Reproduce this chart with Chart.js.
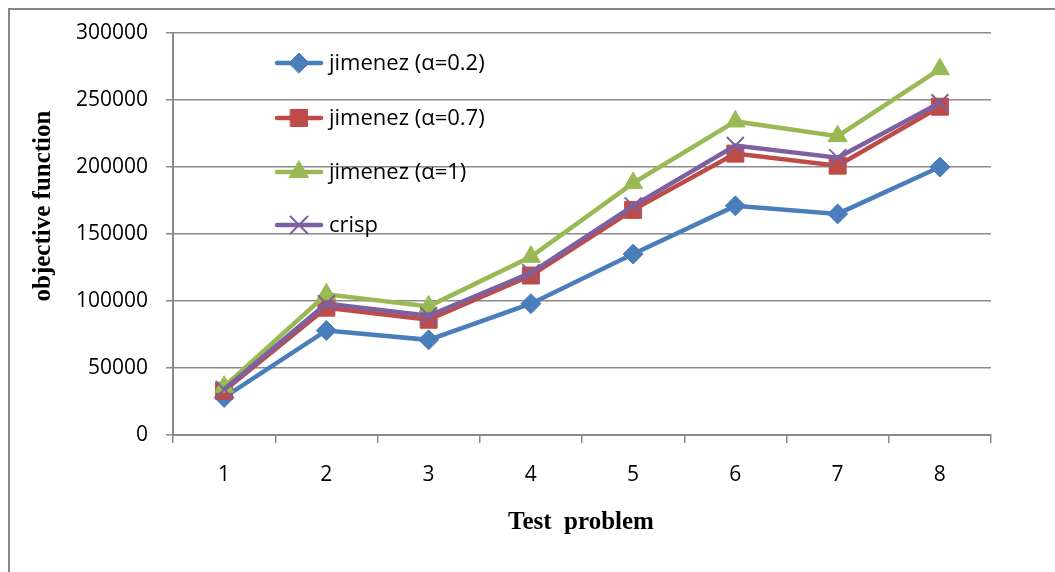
<!DOCTYPE html>
<html>
<head>
<meta charset="utf-8">
<script src="https://cdn.jsdelivr.net/npm/chart.js"></script>
<style>
  html, body { margin: 0; padding: 0; background: #fff; }
  #wrap { width: 1055px; height: 572px; position: relative; }
</style>
</head>
<body>
<div id="wrap"><canvas id="chart"></canvas></div>
<script>
// test problems on the x axis
const problems = ["1", "2", "3", "4", "5", "6", "7", "8"];

// objective function values
const jimenez02 = [28000, 78000, 71000, 98000, 135000, 171000, 165000, 200000];
const jimenez07 = [33000, 95000, 86000, 119000, 168000, 210000, 201000, 245000];
const jimenez1 = [36000, 105000, 96000, 133000, 188000, 234000, 223000, 273000];
const crisp = [34000, 98000, 89000, 121000, 171000, 216000, 207000, 248000];

const seriesNames = ["jimenez (α=0.2)", "jimenez (α=0.7)", "jimenez (α=1)", "crisp"];

const yMin = 0;
const yMax = 300000;
const yStep = 50000;

const gridGrey = "#8a8a8a";

function series(label, data, color, style, radius, order) {
  return {
    label: label,
    data: data,
    borderColor: color,
    backgroundColor: color,
    borderWidth: 4.5,
    pointStyle: style,
    pointRadius: radius,
    pointHoverRadius: radius,
    pointBorderWidth: style === "crossRot" ? 2 : 1,
    pointBorderColor: color,
    pointBackgroundColor: color,
    tension: 0,
    order: order,
  };
}

// legend sits inside the plot, drawn by hand
const insideLegend = {
  id: "insideLegend",
  afterDatasetsDraw(chart) {
    const ctx = chart.ctx;
    const rows = [63, 118, 172, 225];
    ctx.save();
    chart.data.datasets.forEach((ds, i) => {
      const y = rows[i];
      ctx.strokeStyle = ds.borderColor;
      ctx.lineWidth = 4.5;
      ctx.lineCap = "round";
      ctx.beginPath();
      ctx.moveTo(277, y);
      ctx.lineTo(321, y);
      ctx.stroke();
      ctx.fillStyle = ds.backgroundColor;
      ctx.lineWidth = ds.pointBorderWidth;
      Chart.helpers.drawPoint(ctx, {
        pointStyle: ds.pointStyle,
        radius: ds.pointRadius,
        borderWidth: ds.pointBorderWidth,
      }, 299, y);
      ctx.fillStyle = "#000";
      ctx.font = "22px 'Open Sans'";
      ctx.textBaseline = "middle";
      ctx.fillText(ds.label, 329, y + 1);
    });
    ctx.restore();
  },
};

// axis titles, frame and white background
const decorations = {
  id: "decorations",
  beforeDraw(chart) {
    const ctx = chart.ctx;
    ctx.save();
    ctx.fillStyle = "#fff";
    ctx.fillRect(0, 0, chart.width, chart.height);
    ctx.restore();
  },
  afterDraw(chart) {
    const ctx = chart.ctx;
    ctx.save();
    ctx.strokeStyle = "#878787";
    ctx.lineWidth = 2;
    ctx.beginPath();
    ctx.moveTo(9, chart.height + 5);
    ctx.lineTo(9, 9);
    ctx.lineTo(chart.width + 5, 9);
    ctx.stroke();

    ctx.fillStyle = "#000";
    ctx.font = "bold 25px 'Liberation Serif'";
    ctx.textAlign = "center";
    ctx.textBaseline = "middle";
    ctx.fillText("Test  problem", 581, 523);

    ctx.translate(44, 206);
    ctx.rotate(-Math.PI / 2);
    ctx.fillText("objective function", 0, 0);
    ctx.restore();
  },
};

new Chart(document.getElementById("chart"), {
  type: "line",
  data: {
    labels: problems,
    datasets: [
      series(seriesNames[0], jimenez02, "#4a7ebb", "rectRot", 10, 4),
      series(seriesNames[1], jimenez07, "#be4b48", "rect", 12, 3),
      series(seriesNames[2], jimenez1, "#98b954", "triangle", 11, 2),
      series(seriesNames[3], crisp, "#7d60a0", "crossRot", 12, 1),
    ],
  },
  options: {
    responsive: true,
    maintainAspectRatio: false,
    animation: false,
    layout: { padding: { left: 0, top: 33, right: 64, bottom: 0 } },
    plugins: {
      legend: { display: false },
      tooltip: { enabled: false },
    },
    scales: {
      x: {
        offset: true,
        grid: {
          offset: true,
          drawOnChartArea: false,
          drawTicks: true,
          tickLength: 8,
          color: gridGrey,
          lineWidth: 1.5,
        },
        border: { color: gridGrey, width: 2 },
        ticks: {
          color: "#000",
          padding: 19,
          font: { family: "'Open Sans'", size: 21 },
        },
        afterFit(scale) { scale.height = 137; },
      },
      y: {
        min: yMin,
        max: yMax,
        ticks: {
          stepSize: yStep,
          color: "#000",
          padding: 18,
          font: { family: "'Open Sans'", size: 21 },
          callback: (v) => String(v),
        },
        grid: {
          color: gridGrey,
          lineWidth: 1.5,
          tickLength: 7,
        },
        border: { color: gridGrey, width: 2 },
        afterFit(scale) { scale.width = 173; },
      },
    },
  },
  plugins: [decorations, insideLegend],
});
</script>
</body>
</html>
